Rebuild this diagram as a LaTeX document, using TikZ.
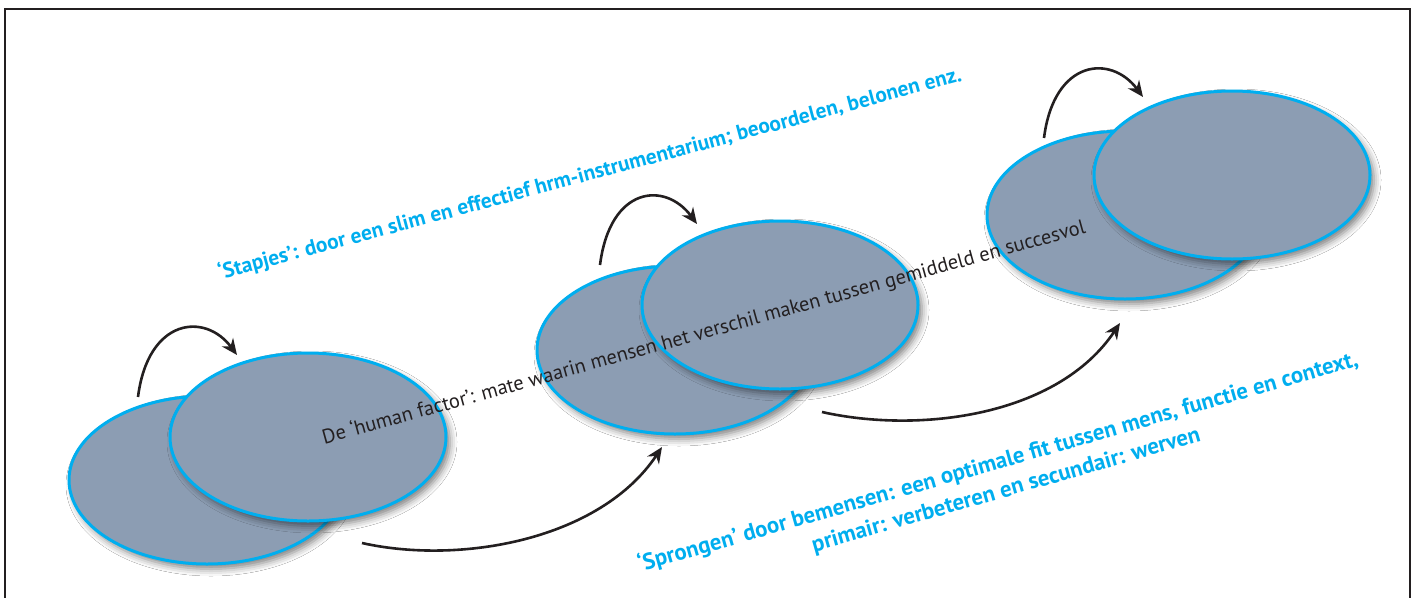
\documentclass[tikz,border=0pt]{standalone}
\usepackage{fontspec}
\setmainfont{PT Sans}
\usepackage{tikz}
\usetikzlibrary{shapes,arrows.meta,shadows.blur}
\definecolor{hrmblue}{HTML}{00AEEF}
\definecolor{hrmfill}{HTML}{8C9DB3}
\definecolor{hrmblack}{HTML}{231F20}
\tikzset{
  hrmellipse/.style={ellipse, draw=hrmblue, line width=3pt, fill=hrmfill, minimum width=276pt, minimum height=168pt,
    blur shadow={shadow xshift=4pt, shadow yshift=-5pt, shadow blur radius=7pt, shadow opacity=50}},
  hoparrow/.style={-{Stealth[length=16pt,width=14pt]}, line width=2.6pt, draw=hrmblack},
  bluetext/.style={text=hrmblue, font=\bfseries\fontsize{21.4}{29}\selectfont},
}
\newcommand{\hrmellipse}[2] {\node at (#1) (#2) [hrmellipse] {};}
\newcommand{\hrmhop}[2] {\draw [hoparrow] (#1) .. controls +(10,-79) and +(-32,-43) .. (#2);}
\newcommand{\hrmjump}[2] {\draw [hoparrow] (#1) .. controls +(98,22) and +(-62,93) .. (#2);}

\begin{document}
\begin{tikzpicture}[x=1pt, y=-1pt]
\useasboundingbox [fill=white] (0,0) rectangle (1415,597);
\draw [hrmblack, line width=1.4pt] (5,9) rectangle (1410,620);

\hrmellipse {207,480} {back1};
\hrmellipse {308,437} {front1};
\hrmellipse {675,350} {back2};
\hrmellipse {780,305} {front2};
\hrmellipse {1125,215} {back3};
\hrmellipse {1232,175} {front3};

\coordinate (h1s) at (138,397);
\coordinate (h1e) at (237,355);
\coordinate (h2s) at (600,265);
\coordinate (h2e) at (697,224);
\coordinate (h3s) at (1044,138);
\coordinate (h3e) at (1143,97);
\coordinate (j1s) at (362,543);
\coordinate (j1e) at (662,447);
\coordinate (j2s) at (822,412);
\coordinate (j2e) at (1120,323);

\hrmhop{h1s}{h1e};
\hrmhop{h2s}{h2e};
\hrmhop{h3s}{h3e};
\hrmjump{j1s}{j1e};
\hrmjump{j2s}{j2e};

\node at (590,174) (stapjes) [bluetext, rotate=15] {‘Stapjes’: door een slim en effectief hrm-instrumentarium; beoordelen, belonen enz.};
\node at (704,333) (humanfactor) [text=hrmblack, font=\fontsize{20.4}{24}\selectfont, rotate=15.5] {De ‘human factor’: mate waarin mensen het verschil maken tussen gemiddeld en succesvol};
\node at (1002,476) (sprongen) [bluetext, font=\bfseries\fontsize{22.8}{29}\selectfont, rotate=16, align=center] {‘Sprongen’ door bemensen: een optimale fit tussen mens, functie en context,\\primair: verbeteren en secundair: werven};

%\node at (700,580) {};
\end{tikzpicture}
\end{document}
